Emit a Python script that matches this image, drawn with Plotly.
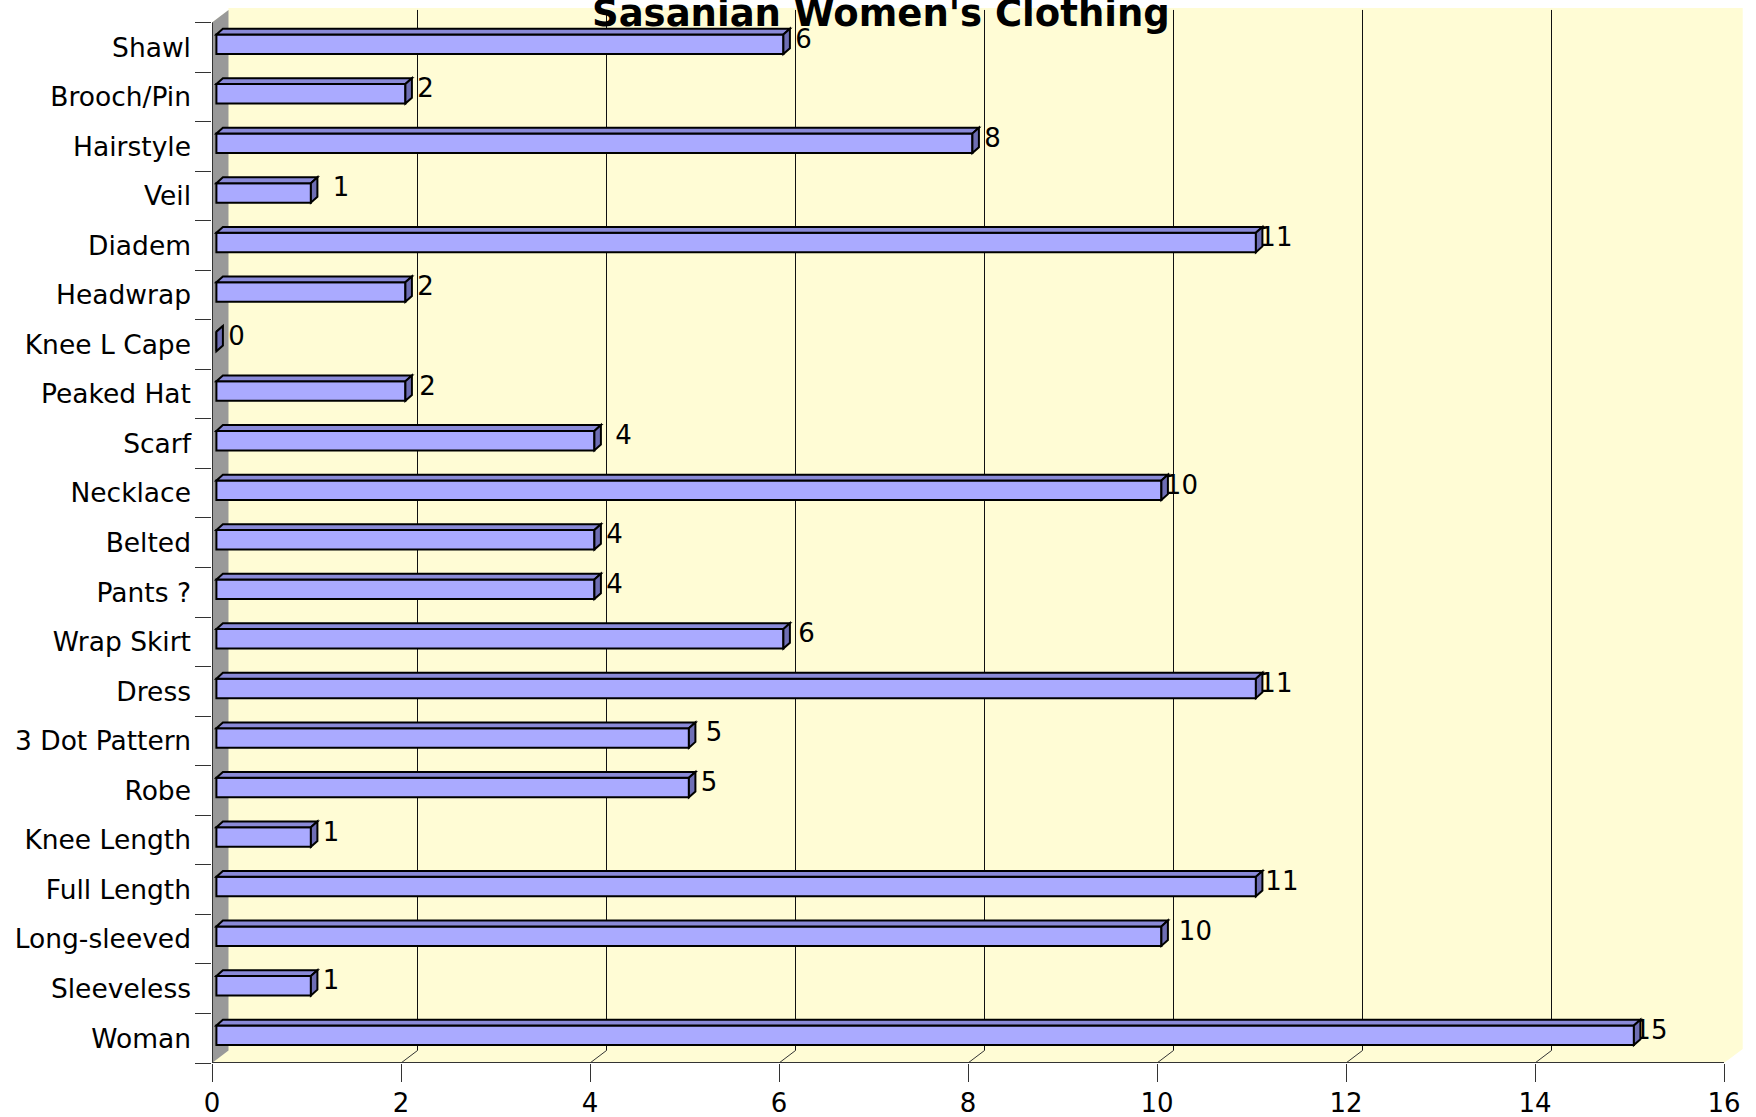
import plotly.graph_objects as go

# ---------------- data ----------------
categories = ["Shawl", "Brooch/Pin", "Hairstyle", "Veil", "Diadem", "Headwrap",
              "Knee L Cape", "Peaked Hat", "Scarf", "Necklace", "Belted", "Pants ?",
              "Wrap Skirt", "Dress", "3 Dot Pattern", "Robe", "Knee Length",
              "Full Length", "Long-sleeved", "Sleeveless", "Woman"]
counts = [6, 2, 8, 1, 11, 2, 0, 2, 4, 10, 4, 4, 6, 11, 5, 5, 1, 11, 10, 1, 15]
x_ticks = [0, 2, 4, 6, 8, 10, 12, 14, 16]
title_text = "Sasanian Women's Clothing"

# label placement tweaks (px), styling only
label_nudge_px = [0, 0, 0, 10, 0, 0, 0, 2, 9, 0, 0, 0, 3, 0, 5, 0, 0, 6, 14, 0, -3]

# ---------------- geometry (pixel based styling) ----------------
W, H = 1756, 1117
L_M, R_M, T_M, B_M = 212, 13, 8, 54
PXX = 94.5          # px per value unit
PXY = 49.55         # px per category band
plot_w = W - L_M - R_M
plot_h = H - T_M - B_M
xmax = plot_w / PXX
ymin = -0.5
ymax = ymin + plot_h / PXY
n = len(categories)
ypos = [n - 1 - i for i in range(n)]
xmaxv = x_ticks[-1]
top_cat = n - 0.5

WDX, WDY = 16.5 / PXX, 12.5 / PXY      # wall depth
EDX, EDY = 18.7 / PXX, 14.0 / PXY      # wall outer edge
FDX, FDY = 4.4 / PXX, 3.0 / PXY        # bar front face shift
BAR_W = 19.5 / PXY
DDX, DDY = 6.5 / PXX, 5.8 / PXY        # bar depth
LBL_DX, LBL_DY = 20.0 / PXX, 3.0 / PXY  # label centre offset from bar end

YELLOW = "#FFFCD5"
GRAY = "#999999"
FRONT = "#AAAAFF"
TOPC = "#8A8AD8"
SIDEC = "#6E6EB4"
FONT = "DejaVu Sans"
FS = 26

shapes = []
# back wall + floor
shapes.append(dict(type="path", xref="x", yref="y", layer="below",
                   path=f"M0,{ymin} L{xmaxv},{ymin} L{xmaxv+EDX},{ymin+EDY} "
                        f"L{xmaxv+EDX},{ymax} L{WDX},{ymax} L{WDX},{top_cat+WDY} L0,{top_cat} Z",
                   fillcolor=YELLOW, line=dict(width=0)))
# side wall
shapes.append(dict(type="path", xref="x", yref="y", layer="below",
                   path=f"M0,{ymin} L0,{top_cat} L{WDX},{top_cat+WDY} L{WDX},{ymin+WDY} Z",
                   fillcolor=GRAY, line=dict(width=0)))
# grid lines on back wall and diagonal floor ticks
for v in x_ticks[1:-1]:
    shapes.append(dict(type="line", xref="x", yref="y", layer="below",
                       x0=v + WDX, x1=v + WDX, y0=ymin + WDY, y1=top_cat + WDY,
                       line=dict(color="#111111", width=1)))
    shapes.append(dict(type="line", xref="x", yref="y", layer="below",
                       x0=v, x1=v + WDX, y0=ymin, y1=ymin + WDY,
                       line=dict(color="#333333", width=1)))
# front axis lines
shapes.append(dict(type="line", xref="x", yref="y", layer="below",
                   x0=0, x1=xmaxv, y0=ymin, y1=ymin, line=dict(color="#333333", width=2)))
shapes.append(dict(type="line", xref="x", yref="y", layer="below",
                   x0=0, x1=0, y0=ymin, y1=top_cat, line=dict(color="#333333", width=2)))

# bar top and side faces
for p, c in zip(ypos, counts):
    x0 = FDX
    x1 = FDX + c
    yb = p + FDY - BAR_W / 2
    yt = p + FDY + BAR_W / 2
    shapes.append(dict(type="path", xref="x", yref="y", layer="above",
                       path=f"M{x0},{yt} L{x1},{yt} L{x1+DDX},{yt+DDY} L{x0+DDX},{yt+DDY} Z",
                       fillcolor=TOPC, line=dict(color="black", width=2)))
    shapes.append(dict(type="path", xref="x", yref="y", layer="above",
                       path=f"M{x1},{yb} L{x1},{yt} L{x1+DDX},{yt+DDY} L{x1+DDX},{yb+DDY} Z",
                       fillcolor=SIDEC, line=dict(color="black", width=2)))

fig = go.Figure()
fig.add_trace(go.Bar(
    orientation="h", y=ypos, x=counts, base=FDX,
    width=BAR_W, offset=-BAR_W / 2 + FDY,
    marker=dict(color=FRONT, line=dict(color="black", width=2)),
    hoverinfo="skip", showlegend=False))
fig.add_trace(go.Scatter(
    mode="text",
    x=[FDX + c + LBL_DX + d / PXX for c, d in zip(counts, label_nudge_px)],
    y=[p + FDY + LBL_DY for p in ypos],
    text=[str(c) for c in counts], textposition="middle center",
    textfont=dict(family=FONT, size=FS, color="black"),
    cliponaxis=False, hoverinfo="skip", showlegend=False))

fig.update_layout(
    width=W, height=H, autosize=False,
    margin=dict(l=L_M, r=R_M, t=T_M, b=B_M, pad=0, autoexpand=False),
    paper_bgcolor="white", plot_bgcolor="white",
    shapes=shapes,
    showlegend=False,
    font=dict(family=FONT, size=FS, color="black"),
    xaxis=dict(range=[0, xmax], tickmode="array", tickvals=x_ticks,
               ticktext=[str(t) for t in x_ticks], automargin=False,
               ticks="outside", ticklen=18, tickwidth=1, tickcolor="#333333",
               showgrid=False, zeroline=False, showline=False,
               tickfont=dict(family=FONT, size=FS, color="black"),
               ticklabelstandoff=-1, fixedrange=True),
    yaxis=dict(range=[ymin, ymax], tickmode="array", tickvals=ypos,
               ticktext=categories, ticks="", automargin=False,
               minor=dict(tickmode="array",
                          tickvals=[p - 0.5 for p in range(n + 1)],
                          ticks="outside", ticklen=16, tickwidth=1, tickcolor="#333333",
                          showgrid=False),
               showgrid=False, zeroline=False, showline=False,
               tickfont=dict(family=FONT, size=26.5, color="black"),
               ticklabelstandoff=20, fixedrange=True),
    annotations=[dict(text=f"<b>{title_text}</b>", xref="paper", yref="paper",
                      x=(881 - L_M) / plot_w, y=1 + (T_M - 13.0) / plot_h,
                      xanchor="center", yanchor="middle", showarrow=False,
                      font=dict(family=FONT, size=37, color="black"))],
)

fig.write_html("out.html", config={"displayModeBar": False},
               post_script="document.body.style.margin='0px';document.body.style.overflow='hidden';")
